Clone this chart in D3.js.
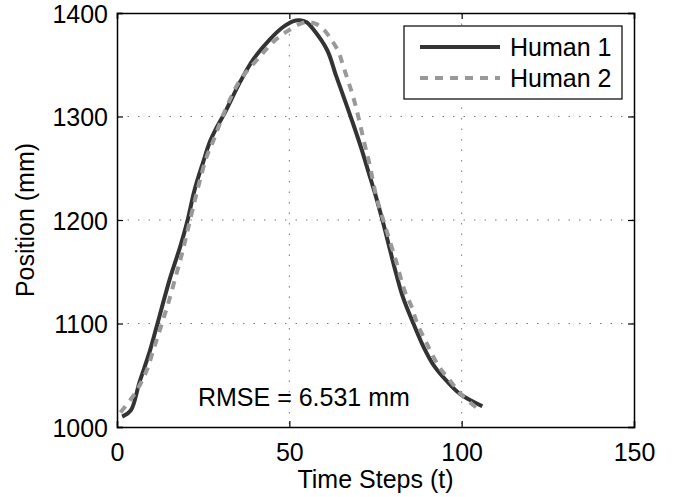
<!DOCTYPE html>
<html>
<head>
<meta charset="utf-8">
<script src="https://cdn.jsdelivr.net/npm/d3@7"></script>
<style>
  body { margin: 0; background: #fff; }
  text { font-family: "Liberation Sans", Arial, sans-serif; }
</style>
</head>
<body>
<div id="chart"></div>
<script>
// Data
const human1T = [1.5, 4, 6.5, 9.5, 11.5, 15.5, 18.5, 20.5, 22.5, 25, 27, 29, 31.5, 35.5, 39.5, 44.5, 48, 51, 53, 55, 57, 61, 63.5, 66.5, 68.5, 71, 73, 75, 77, 79, 81, 83, 86, 89, 92, 95.5, 99.5, 106];
const human1Y = [1010, 1016, 1043, 1073, 1097, 1145, 1176, 1200, 1229, 1256, 1276, 1290, 1305, 1332, 1355, 1375, 1386, 1392, 1393, 1391, 1384, 1364, 1340, 1312, 1293, 1268, 1246, 1224, 1200, 1174, 1148, 1125, 1100, 1077, 1059, 1045, 1032, 1020];

const human2T = [1, 4.5, 7, 9, 10.5, 12, 13.5, 15, 17, 18.5, 19.5, 20.7, 22, 23.8, 26, 28, 31, 35.7, 41.5, 45.3, 49.2, 53.5, 56, 58, 60, 62, 64.2, 65.7, 67.1, 68.6, 70, 72, 73.2, 75.3, 78, 80.9, 83.5, 85.5, 87.1, 89.4, 91.3, 93.7, 96.6, 100, 104.2];
const human2Y = [1014, 1029, 1043, 1058, 1074, 1089, 1105, 1121, 1145, 1163, 1176, 1193, 1211, 1235, 1261, 1277, 1303, 1335, 1358, 1372, 1382, 1390, 1391, 1389, 1384, 1375, 1363, 1348, 1334, 1318, 1300, 1271, 1255, 1222, 1192, 1161, 1131, 1116, 1100, 1084, 1071, 1057, 1045, 1031, 1019];

const xTicks = [0, 50, 100, 150];
const yTicks = [1000, 1100, 1200, 1300, 1400];
const seriesNames = ["Human 1", "Human 2"];
const rmseLabel = "RMSE = 6.531 mm";

// Dimensions
const margin = { top: 13, right: 44, bottom: 70, left: 117 },
      width = 678 - margin.left - margin.right,
      height = 497 - margin.top - margin.bottom;

const svg = d3.select("#chart")
    .append("svg")
    .attr("width", 678)
    .attr("height", 497)
    .append("g")
    .attr("transform", `translate(${margin.left},${margin.top})`);

// Scales
const x = d3.scaleLinear().domain([0, 150]).range([0, width]);
const y = d3.scaleLinear().domain([1000, 1400]).range([height, 0]);

// Dotted grid
svg.append("g")
    .selectAll("line")
    .data(xTicks.slice(1, -1))
    .enter()
    .append("line")
    .attr("x1", d => x(d)).attr("x2", d => x(d))
    .attr("y1", 0).attr("y2", height)
    .attr("stroke", "#777")
    .attr("stroke-width", 1)
    .attr("stroke-dasharray", "1.5,9");

svg.append("g")
    .selectAll("line")
    .data(yTicks.slice(1, -1))
    .enter()
    .append("line")
    .attr("x1", 0).attr("x2", width)
    .attr("y1", d => y(d)).attr("y2", d => y(d))
    .attr("stroke", "#777")
    .attr("stroke-width", 1)
    .attr("stroke-dasharray", "1.5,9");

// Axes with inward ticks on all four sides
const fontSize = 25;
const xAxis = svg.append("g")
    .attr("transform", `translate(0,${height})`)
    .call(d3.axisBottom(x).tickValues(xTicks).tickFormat(d3.format("d")).tickSize(-6).tickPadding(14));
const yAxis = svg.append("g")
    .call(d3.axisLeft(y).tickValues(yTicks).tickFormat(d3.format("d")).tickSize(-6).tickPadding(14));
svg.append("g")
    .call(d3.axisTop(x).tickValues(xTicks).tickSize(-6).tickFormat(""));
svg.append("g")
    .attr("transform", `translate(${width},0)`)
    .call(d3.axisRight(y).tickValues(yTicks).tickSize(-6).tickFormat(""));

svg.selectAll(".domain").attr("stroke", "#000").attr("stroke-width", 1.5);
svg.selectAll(".tick line").attr("stroke", "#000").attr("stroke-width", 1.2);
svg.selectAll(".tick text")
    .attr("fill", "#000")
    .style("font-size", fontSize + "px")
    .style("font-family", "'Liberation Sans', Arial, sans-serif");
xAxis.selectAll(".tick text").attr("y", 16).attr("dy", "0.72em");
yAxis.selectAll(".tick text").attr("x", -9).attr("dy", "0.36em");

// Axis labels
svg.append("text")
    .attr("x", width / 2)
    .attr("y", height + 61)
    .attr("text-anchor", "middle")
    .style("font-size", fontSize + "px")
    .text("Time Steps (t)");

svg.append("text")
    .attr("transform", "rotate(-90)")
    .attr("x", -height / 2)
    .attr("y", -margin.left + 34)
    .attr("text-anchor", "middle")
    .style("font-size", fontSize + "px")
    .text("Position (mm)");

// Lines
const line = d3.line()
    .x(d => x(d[0]))
    .y(d => y(d[1]))
    .curve(d3.curveCatmullRom.alpha(0.5));

const h1 = human1T.map((t, i) => [t, human1Y[i]]);
const h2 = human2T.map((t, i) => [t, human2Y[i]]);

svg.append("path")
    .datum(h1)
    .attr("fill", "none")
    .attr("stroke", "#333")
    .attr("stroke-width", 4)
    .attr("d", line);

svg.append("path")
    .datum(h2)
    .attr("fill", "none")
    .attr("stroke", "#999")
    .attr("stroke-width", 4)
    .attr("stroke-dasharray", "8,7")
    .attr("d", line);

// RMSE annotation
svg.append("text")
    .attr("x", x(23.5))
    .attr("y", y(1020))
    .style("font-size", fontSize + "px")
    .text(rmseLabel);

// Legend
const legend = svg.append("g")
    .attr("transform", `translate(${404 - margin.left},${26 - margin.top})`);

legend.append("rect")
    .attr("width", 218)
    .attr("height", 73)
    .attr("fill", "#fff")
    .attr("stroke", "#000")
    .attr("stroke-width", 1.2);

const legendStyles = [
    { stroke: "#333", dash: null },
    { stroke: "#999", dash: "8,7" }
];

seriesNames.forEach((name, i) => {
    const ly = 21 + i * 31;
    legend.append("line")
        .attr("x1", 16).attr("x2", 96)
        .attr("y1", ly).attr("y2", ly)
        .attr("stroke", legendStyles[i].stroke)
        .attr("stroke-width", 4)
        .attr("stroke-dasharray", legendStyles[i].dash);
    legend.append("text")
        .attr("x", 106)
        .attr("y", ly + 9)
        .style("font-size", fontSize + "px")
        .text(name);
});
</script>
</body>
</html>
